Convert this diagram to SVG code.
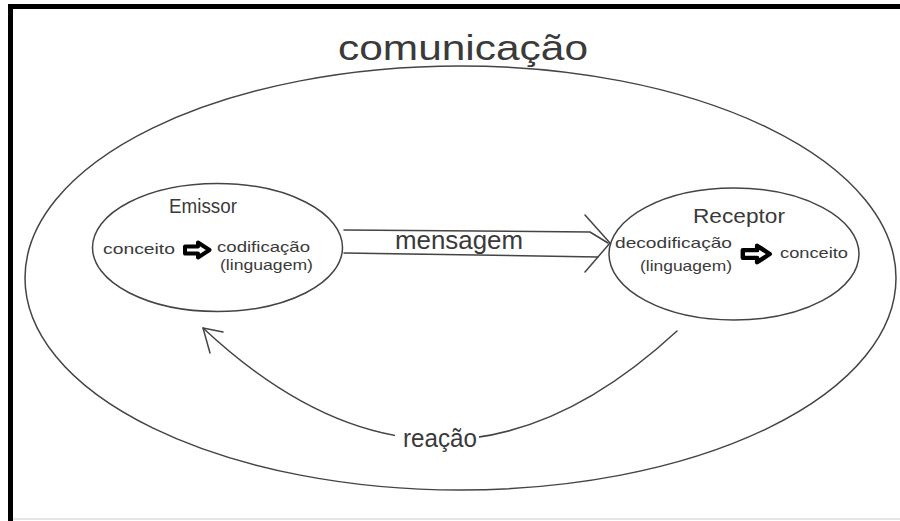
<svg xmlns="http://www.w3.org/2000/svg" width="900" height="521" viewBox="0 0 900 521">
  <style>
    .line { fill: none; stroke: #444; stroke-width: 1.5; stroke-linecap: round; stroke-linejoin: round; }
    .node { fill: none; stroke: #444; stroke-width: 1.5; }
    .txt { font-family: "Liberation Sans", Arial, sans-serif; fill: #3a3a3a; }
    .blob { fill: #fff; stroke: #000; stroke-width: 4; stroke-linejoin: round; }
  </style>
  <defs>
    <!-- hollow block arrow used between concept and coding -->
    <path id="blob-arrow" d="M-12,-3.5 L1,-3.5 L1,-7.5 L12.5,0 L1,7.5 L1,3.5 L-12,3.5 Z"/>
  </defs>

  <!-- page frame -->
  <rect x="0" y="0" width="900" height="521" fill="#fff"/>
  <line x1="8" y1="6.5" x2="900" y2="6.5" stroke="#000" stroke-width="5"/>
  <line x1="10.5" y1="4" x2="10.5" y2="521" stroke="#000" stroke-width="5"/>
  <line x1="13" y1="519" x2="900" y2="519" stroke="#ddd" stroke-width="1.5"/>

  <!-- communication envelope -->
  <g id="comunicacao">
    <ellipse class="node" cx="460.5" cy="278" rx="435.5" ry="212"/>
    <text class="txt" x="338" y="60" font-size="35" textLength="250" lengthAdjust="spacingAndGlyphs">comunicação</text>
  </g>

  <!-- sender -->
  <g id="emissor">
    <ellipse class="node" cx="217.5" cy="247.5" rx="125" ry="64"/>
    <text class="txt" x="169" y="213" font-size="20" textLength="68" lengthAdjust="spacingAndGlyphs">Emissor</text>
    <text class="txt" x="103" y="254" font-size="15" textLength="72" lengthAdjust="spacingAndGlyphs">conceito</text>
    <use href="#blob-arrow" class="blob" transform="translate(197,250)"/>
    <text class="txt" x="217" y="252" font-size="15" textLength="93" lengthAdjust="spacingAndGlyphs">codificação</text>
    <text class="txt" x="220" y="270" font-size="15" textLength="93" lengthAdjust="spacingAndGlyphs">(linguagem)</text>
  </g>

  <!-- receiver -->
  <g id="receptor">
    <ellipse class="node" cx="734" cy="254" rx="125" ry="66"/>
    <text class="txt" x="693" y="223" font-size="20" textLength="92" lengthAdjust="spacingAndGlyphs">Receptor</text>
    <text class="txt" x="615" y="248" font-size="15" textLength="117" lengthAdjust="spacingAndGlyphs">decodificação</text>
    <text class="txt" x="640" y="271" font-size="15" textLength="92" lengthAdjust="spacingAndGlyphs">(linguagem)</text>
    <use href="#blob-arrow" class="blob" transform="translate(756,254) scale(1.1)"/>
    <text class="txt" x="780" y="258" font-size="15" textLength="68" lengthAdjust="spacingAndGlyphs">conceito</text>
  </g>

  <!-- connectors -->
  <g id="connectors">
    <!-- message channel -->
    <polyline class="line" points="344,230 590,232 608,243"/>
    <polyline class="line" points="344,253 598,257"/>
    <polyline class="line" points="585,215 610,243 585,272"/>
    <text class="txt" x="395" y="249" font-size="25" textLength="128" lengthAdjust="spacingAndGlyphs">mensagem</text>

    <!-- feedback -->
    <path class="line" d="M677,331 Q440,550 203,328"/>
    <polyline class="line" points="223,332 203,328 210,353"/>
    <rect x="395" y="425" width="84" height="30" fill="#fff"/>
    <text class="txt" x="403" y="447" font-size="26" textLength="74" lengthAdjust="spacingAndGlyphs">reação</text>
  </g>
</svg>
